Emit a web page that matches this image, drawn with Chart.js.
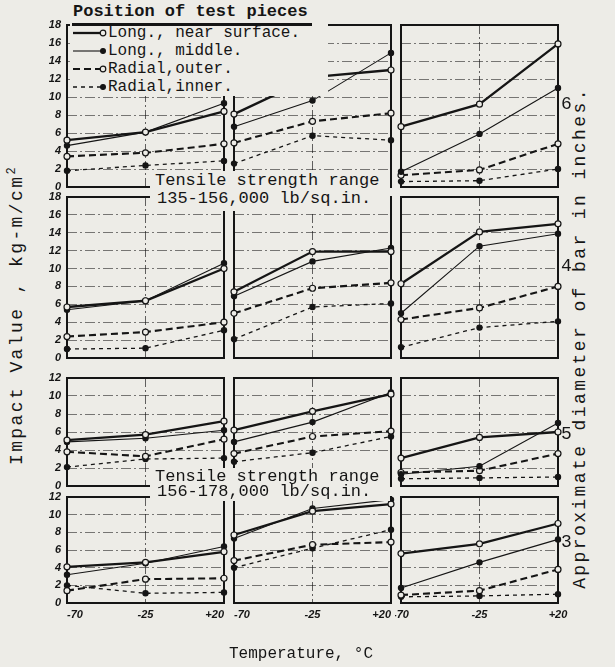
<!DOCTYPE html>
<html>
<head>
<meta charset="utf-8">
<script src="https://cdn.jsdelivr.net/npm/chart.js@4.4.1/dist/chart.umd.min.js"></script>
<style>
  body { margin: 0; background: #edece7; }
  #page { position: relative; width: 615px; height: 667px; overflow: hidden; font-family: "Liberation Mono", monospace; color: #151515; }
  canvas.panel { position: absolute; }
  .txt { position: absolute; white-space: nowrap; }
  .box { position: absolute; background: #edece7; }
  .rot { position: absolute; white-space: nowrap; transform: translate(-50%, -50%) rotate(-90deg); }
</style>
</head>
<body>
<div id="page">
  <div id="legend" class="box" style="left:70px; top:0px; width:258px; height:96px;"></div>
  <div class="box" style="left:150px; top:171px; width:240px; height:40px;">
    <div class="txt" style="left:5px; top:0px; font-size:17px;">Tensile strength range</div>
    <div class="txt" style="left:7px; top:18px; font-size:17px;">135-156,000 lb/sq.in.</div>
  </div>
  <div class="box" style="left:150px; top:468px; width:240px; height:33px;">
    <div class="txt" style="left:5px; top:-1px; font-size:17px;">Tensile strength range</div>
    <div class="txt" style="left:7px; top:14px; font-size:17px;">156-178,000 lb/sq.in.</div>
  </div>
  <div class="rot" style="left:16px; top:315px; font-size:18px; letter-spacing:2.4px;">Impact Value , kg-m/cm<sup style="font-size:12px;">2</sup></div>
  <div class="rot" style="left:580px; top:338px; font-size:18px; letter-spacing:2.4px;">Approximate diameter of bar in inches.</div>
  <div class="txt" style="left:229px; top:645px; font-size:16px;">Temperature, °C</div>
</div>
<script>
const temps = [-70, -25, 20];
const tempLabels = ['-70', '-25', '+20'];
const seriesNames = ['Long., near surface.', 'Long., middle.', 'Radial,outer.', 'Radial,inner.'];
const diameters = ['6', '4', '5', '3'];
const yMax = [18, 18, 12, 12];

// impact values, kg-m/cm2 : [row][column][temperature]
const nearSurface = [
    [[5.2, 6.1, 8.4], [8.1, 12.2, 13.0], [6.7, 9.2, 15.9]],
    [[5.7, 6.4, 10.0], [7.4, 11.9, 11.9], [8.3, 14.1, 15.0]],
    [[5.1, 5.7, 7.2], [6.2, 8.3, 10.2], [3.1, 5.4, 6.0]],
    [[4.1, 4.6, 5.8], [7.7, 10.4, 11.2], [5.6, 6.7, 9.0]]
];
const middle = [
    [[4.6, 6.1, 9.3], [6.7, 9.6, 14.9], [1.7, 5.9, 11.0]],
    [[5.4, 6.4, 10.6], [6.9, 10.8, 12.3], [5.0, 12.5, 13.9]],
    [[4.9, 5.3, 6.2], [4.9, 7.1, 10.4], [1.3, 2.2, 7.0]],
    [[3.2, 4.5, 6.4], [7.3, 10.7, 11.7], [1.7, 4.6, 7.2]]
];
const radialOuter = [
    [[3.4, 3.8, 4.8], [4.9, 7.3, 8.2], [1.3, 1.9, 4.8]],
    [[2.4, 2.9, 4.0], [5.0, 7.8, 8.4], [4.3, 5.6, 8.0]],
    [[3.8, 3.3, 5.2], [3.6, 5.5, 6.1], [1.5, 1.7, 3.6]],
    [[1.4, 2.7, 2.8], [4.8, 6.6, 6.9], [0.9, 1.4, 3.8]]
];
const radialInner = [
    [[1.8, 2.4, 2.9], [2.6, 5.7, 5.2], [0.6, 0.7, 2.0]],
    [[1.0, 1.1, 3.1], [2.1, 5.7, 6.1], [1.2, 3.4, 4.1]],
    [[2.1, 3.0, 3.1], [2.7, 3.7, 5.5], [0.8, 0.9, 1.0]],
    [[2.0, 1.1, 1.2], [4.0, 6.2, 8.3], [0.7, 0.8, 1.0]]
];
const allSeries = [nearSurface, middle, radialOuter, radialInner];

const paper = '#edece7';
const ink = '#151515';
const lineStyles = [
    { width: 2.3, dash: [], open: true },
    { width: 1.1, dash: [], open: false },
    { width: 2.1, dash: [7, 4], open: true },
    { width: 1.3, dash: [4, 4], open: false }
];

// panel placement on the page
const colLeft = [67, 234, 401];
const colWidth = 157;
const rowTop = [25, 197, 378, 497];
const rowBottom = [187, 358, 486, 603];

const tickFont = { family: 'Liberation Sans', size: 11, style: 'italic', weight: 'bold' };

// box round each little plot
const framePlugin = {
    id: 'frame',
    beforeDatasetsDraw(chart) {
        const a = chart.chartArea;
        const ctx = chart.ctx;
        ctx.save();
        ctx.strokeStyle = ink;
        ctx.lineWidth = 2;
        ctx.strokeRect(a.left, a.top, a.right - a.left, a.bottom - a.top);
        ctx.restore();
    }
};

const page = document.getElementById('page');

function makePanel(r, c) {
    const pad = 6;
    const padL = c === 0 ? 40 : 6;
    const padR = (r === 3 && c === 2) ? 12 : 6;
    const padB = r === 3 ? 24 : 6;
    const h = rowBottom[r] - rowTop[r];
    const canvas = document.createElement('canvas');
    canvas.className = 'panel';
    canvas.width = colWidth + padL + padR;
    canvas.height = h + pad + padB;
    canvas.style.left = (colLeft[c] - padL) + 'px';
    canvas.style.top = (rowTop[r] - pad) + 'px';
    page.insertBefore(canvas, page.firstChild);

    const datasets = allSeries.map((s, k) => {
        const st = lineStyles[k];
        return {
            label: seriesNames[k],
            data: s[r][c].map((v, i) => ({ x: temps[i], y: v })),
            borderColor: ink,
            borderWidth: st.width,
            borderDash: st.dash,
            pointRadius: st.open ? 3 : 2.6,
            pointBackgroundColor: st.open ? paper : ink,
            pointBorderColor: ink,
            pointBorderWidth: 1.2,
            clip: false,
            tension: 0
        };
    });

    new Chart(canvas, {
        type: 'line',
        data: { datasets: datasets },
        options: {
            responsive: false,
            animation: false,
            devicePixelRatio: 1,
            layout: { padding: { top: pad, right: padR, left: 0, bottom: 0 } },
            plugins: { legend: { display: false }, tooltip: { enabled: false } },
            scales: {
                x: {
                    type: 'linear', min: -70, max: 20,
                    afterBuildTicks: s => { s.ticks = temps.map(v => ({ value: v })); },
                    afterFit: s => { s.height = padB; s.paddingLeft = 0; s.paddingRight = 0; },
                    grid: { color: 'rgba(20,20,20,0.65)', lineWidth: 1, drawTicks: false },
                    border: { display: false, dash: [9, 3, 2, 3] },
                    ticks: {
                        display: r === 3, padding: 5, color: ink, font: tickFont,
                        maxRotation: 0, align: c < 2 ? 'inner' : 'center',
                        callback: v => tempLabels[temps.indexOf(v)]
                    }
                },
                y: {
                    min: 0, max: yMax[r],
                    afterFit: s => { s.width = padL; s.paddingTop = 0; s.paddingBottom = 0; },
                    grid: { color: 'rgba(20,20,20,0.55)', lineWidth: 1, drawTicks: false },
                    border: { display: false, dash: [10, 3, 2, 3] },
                    ticks: { display: c === 0, stepSize: 2, padding: 6, color: ink, font: tickFont }
                }
            }
        },
        plugins: [framePlugin]
    });
}

for (let r = 0; r < 4; r++) {
    for (let c = 0; c < 3; c++) {
        makePanel(r, c);
    }
}

// diameter numbers beside each row
const diaY = [105, 267, 435, 543];
diameters.forEach((d, r) => {
    const el = document.createElement('div');
    el.className = 'txt';
    el.style.left = '561px';
    el.style.top = (diaY[r] - 11) + 'px';
    el.style.fontSize = '18px';
    el.textContent = d;
    page.appendChild(el);
});

// legend: title plus one sample line per series
const legend = document.getElementById('legend');
legend.innerHTML = '<div class="txt" style="left:3px; top:2px; font-size:17px; font-weight:bold;">Position of test pieces</div>' +
    '<div style="position:absolute; left:2px; top:23px; width:240px; height:3px; background:' + ink + ';"></div>';
seriesNames.forEach((name, k) => {
    const st = lineStyles[k];
    const y = 34 + k * 18;
    const dash = st.dash.length ? ' stroke-dasharray="' + st.dash.join(',') + '"' : '';
    const row = document.createElement('div');
    row.className = 'txt';
    row.style.left = '2px';
    row.style.top = (y - 10) + 'px';
    row.innerHTML = '<svg width="36" height="14" style="vertical-align:middle">' +
        '<line x1="1" y1="7" x2="30" y2="7" stroke="' + ink + '" stroke-width="' + st.width + '"' + dash + '/>' +
        '<circle cx="31" cy="7" r="' + (st.open ? 2.8 : 2.4) + '" fill="' + (st.open ? paper : ink) + '" stroke="' + ink + '" stroke-width="1.2"/></svg>' +
        '<span style="font-size:16px; vertical-align:middle;">' + name + '</span>';
    legend.appendChild(row);
});
</script>
</body>
</html>
